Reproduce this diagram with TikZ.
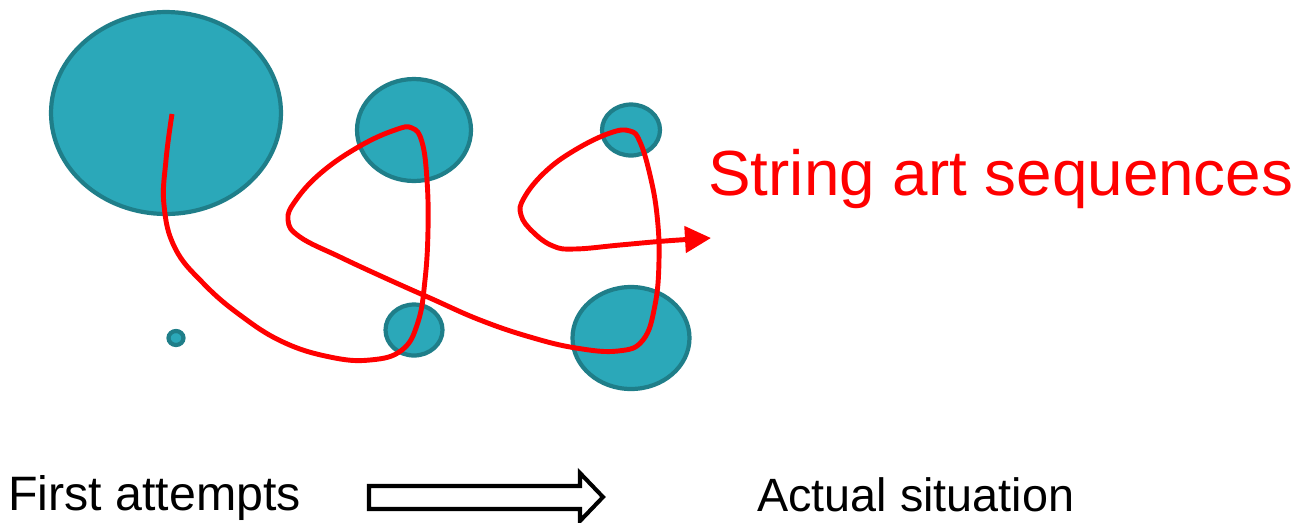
\documentclass[tikz,border=0pt]{standalone}
\usepackage{fontspec}
\setmainfont{Liberation Sans}
\usetikzlibrary{shapes.geometric,arrows.meta}
\definecolor{turquesa}{HTML}{2BA8B9}
\definecolor{borde}{HTML}{1F7E89}

\begin{document}
\begin{tikzpicture}[x=0.02cm, y=-0.02cm,
      punto/.style = {shape=ellipse, draw=borde, fill=turquesa,
        line width=2.4pt, inner sep=0pt
      },
      hilo/.style = {red, line width=2.8pt, line join=round,
        -{Triangle[length=0.52cm, width=0.52cm]}
      },
      etiqueta/.style = {anchor=base west, inner sep=0pt,
        font=\fontsize{27.5}{32}\selectfont
      },
      flecha/.style = {draw=black, fill=white, line width=2.3pt, line join=miter}
    ]
    \useasboundingbox (0,0) rectangle (1305,522);

    %puntos
    \node[punto, minimum width=4.6cm,  minimum height=4.04cm] (grande)  at (166,113) {};
    \node[punto, minimum width=2.28cm, minimum height=2.04cm] (medioA)  at (414,130) {};
    \node[punto, minimum width=1.14cm, minimum height=1.02cm] (medioB)  at (414,330) {};
    \node[punto, minimum width=1.16cm, minimum height=1.02cm] (derA)    at (631,130) {};
    \node[punto, minimum width=2.34cm, minimum height=2.04cm] (derB)    at (631,338) {};
    \node[punto, minimum width=0.3cm,  minimum height=0.28cm] (minimo)  at (176,338) {};

    %hilo
    \draw[hilo] plot[smooth, tension=0.7] coordinates {
      (172,114) (166,160) (164,205) (175,248) (203,283) (240,315) (283,342)
      (330,357) (370,360) (402,350) (418,322) (425,280) (428,230) (427,180)
      (422,142) (412,128) (395,130) (360,146) (322,172) (296,200) (288,220)
      (300,237) (340,257) (383,277) (430,298) (480,320) (530,337) (576,348)
      (618,351) (643,340) (655,305) (659,260) (657,215) (650,175) (640,142)
      (630,131) (610,133) (575,150) (545,172) (524,198) (521,215) (533,232)
      (553,246) (575,249) (620,245) (665,241) (711,238)
    };

    \node[etiqueta, red, font=\fontsize{36.3}{42}\selectfont] (titulo) at (708,195) {String art sequences};

    %abajo
    \node[etiqueta] (antes)   at (8,510)   {First attempts};
    \draw[flecha] (369,486) -- (580,486) -- (580,473) -- (603,497)
      -- (580,521) -- (580,509) -- (369,509) -- cycle;
    \node[etiqueta, font=\fontsize{26.6}{32}\selectfont] (despues) at (757,511) {Actual situation};
\end{tikzpicture}
\end{document}
